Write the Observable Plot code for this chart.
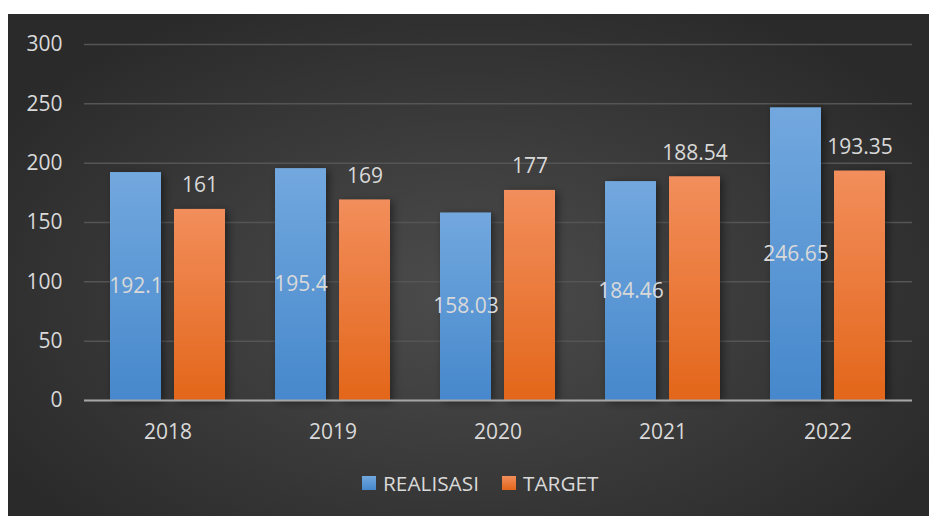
<!DOCTYPE html>
<html>
<head>
<meta charset="utf-8">
<script src="https://cdn.jsdelivr.net/npm/d3@7"></script>
<script src="https://cdn.jsdelivr.net/npm/@observablehq/plot@0.6"></script>
<style>
  html, body { margin: 0; padding: 0; background: #ffffff; }
  #card {
    position: absolute; left: 8px; top: 14px; width: 921px; height: 502px;
    background: radial-gradient(ellipse 60% 65% at 50% 56%, #4c4c4c 0%, #3d3d3d 45%, #2a2a2a 100%);
    overflow: hidden;
    font-family: "Open Sans", sans-serif;
  }
  #legend {
    position: absolute; left: 354px; top: 455px; display: flex; align-items: center;
    color: #d9d9d9; font-size: 20.8px; white-space: nowrap;
  }
  .sw { width: 14px; height: 14px; display: inline-block; margin-right: 7px; }
  .item { display: flex; align-items: center; margin-right: 23px; }
</style>
</head>
<body>
<div id="card">
  <div id="chart"></div>
  <div id="legend"></div>
</div>
<script>
const years = ["2018", "2019", "2020", "2021", "2022"];
const realisasi = [192.1, 195.4, 158.03, 184.46, 246.65];
const target = [161, 169, 177, 188.54, 193.35];
const yTicks = [0, 50, 100, 150, 200, 250, 300];
const seriesNames = ["REALISASI", "TARGET"];

const realData = years.map((y, i) => ({year: y, value: realisasi[i]}));
const targData = years.map((y, i) => ({year: y, value: target[i]}));

const textColor = "#d9d9d9";

const chart = Plot.plot({
  width: 921,
  height: 450,
  marginLeft: 76,
  marginRight: 17,
  marginTop: 30,
  marginBottom: 64,
  style: {background: "transparent", fontFamily: "Open Sans, sans-serif", fontSize: "21px", color: textColor, overflow: "visible"},
  x: {domain: years, paddingInner: 0.3, paddingOuter: 0.15, label: null},
  y: {domain: [0, 300], label: null},
  marks: [
    Plot.gridY(yTicks, {stroke: "#555555", strokeOpacity: 1, strokeWidth: 1.5}),
    Plot.barY(realData, {x: "year", y: "value", fill: "url(#gBlue)", insetRight: 64}),
    Plot.barY(targData, {x: "year", y: "value", fill: "url(#gOrange)", insetLeft: 64}),
    Plot.ruleY([0], {stroke: "#a6a6a6", strokeWidth: 2}),
    Plot.axisY(yTicks, {tickSize: 0, tickPadding: 22, fill: textColor, fontSize: 21, label: null}),
    Plot.axisX({tickSize: 0, tickPadding: 24, fill: textColor, fontSize: 21, label: null}),
    Plot.text(realData, {x: "year", y: d => d.value / 2, text: d => String(d.value), dx: -32, fill: textColor, fontSize: 21}),
    Plot.text(targData, {x: "year", y: "value", text: d => String(d.value), dx: 32, dy: -24, fill: textColor, fontSize: 21})
  ]
});

const svg = d3.select(chart);
const defs = svg.insert("defs", ":first-child");
const gb = defs.append("linearGradient").attr("id", "gBlue").attr("x1", 0).attr("y1", 0).attr("x2", 0).attr("y2", 1);
gb.append("stop").attr("offset", "0%").attr("stop-color", "#72a8de");
gb.append("stop").attr("offset", "100%").attr("stop-color", "#4688cc");
const go = defs.append("linearGradient").attr("id", "gOrange").attr("x1", 0).attr("y1", 0).attr("x2", 0).attr("y2", 1);
go.append("stop").attr("offset", "0%").attr("stop-color", "#f28e5c");
go.append("stop").attr("offset", "100%").attr("stop-color", "#e3661a");
const f = defs.append("filter").attr("id", "shadow").attr("x", "-30%").attr("y", "-10%").attr("width", "160%").attr("height", "120%");
f.append("feDropShadow").attr("dx", 3).attr("dy", 2).attr("stdDeviation", 4).attr("flood-color", "#000").attr("flood-opacity", 0.45);
svg.selectAll("g[aria-label='bar'] rect").attr("filter", "url(#shadow)");

document.getElementById("chart").appendChild(chart);

const legendColors = ["linear-gradient(#72a8de, #4688cc)", "linear-gradient(#f28e5c, #e3661a)"];
const legend = document.getElementById("legend");
seriesNames.forEach((name, i) => {
  const item = document.createElement("span");
  item.className = "item";
  const sw = document.createElement("span");
  sw.className = "sw";
  sw.style.background = legendColors[i];
  item.appendChild(sw);
  item.appendChild(document.createTextNode(name));
  legend.appendChild(item);
});
</script>
</body>
</html>
